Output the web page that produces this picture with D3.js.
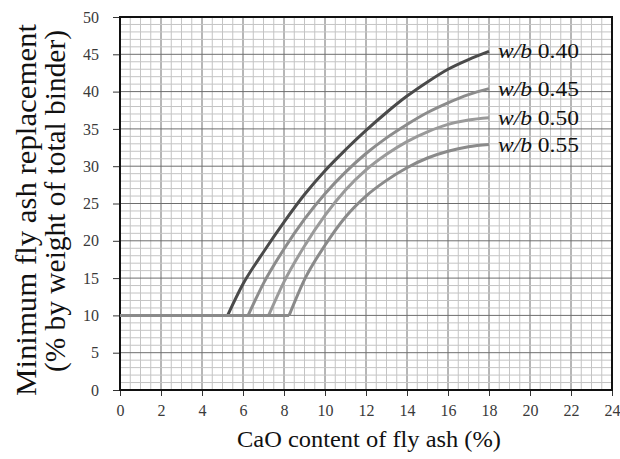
<!DOCTYPE html>
<html>
<head>
<meta charset="utf-8">
<script src="https://cdn.jsdelivr.net/npm/d3@7"></script>
<style>
  body { margin: 0; background: #fff; }
  svg { display: block; }
</style>
</head>
<body>
<div id="chart"></div>
<script>
// Données : remplacement minimal de cendres volantes selon CaO
const seriesNames = ['w/b 0.40', 'w/b 0.45', 'w/b 0.50', 'w/b 0.55'];
const wb040X = [0, 5.25, 6, 7, 8, 9, 10, 11, 12, 13, 14, 15, 16, 17, 18];
const wb040Y = [10, 10, 14.2, 18.5, 22.5, 26.2, 29.4, 32.2, 34.8, 37.2, 39.4, 41.3, 43.0, 44.3, 45.4];
const wb045X = [0, 6.25, 7, 8, 9, 10, 11, 12, 13, 14, 15, 16, 17, 18];
const wb045Y = [10, 10, 14.3, 18.9, 22.9, 26.3, 29.2, 31.7, 33.8, 35.6, 37.2, 38.5, 39.6, 40.4];
const wb050X = [0, 7.25, 8, 9, 10, 11, 12, 13, 14, 15, 16, 17, 18];
const wb050Y = [10, 10, 14.5, 19.3, 23.4, 26.8, 29.5, 31.6, 33.3, 34.6, 35.6, 36.2, 36.5];
const wb055X = [0, 8.25, 9, 10, 11, 12, 13, 14, 15, 16, 17, 18];
const wb055Y = [10, 10, 14.8, 19.4, 23.2, 26.0, 28.1, 29.8, 31.1, 32.0, 32.6, 32.9];
const xTicks = [0, 2, 4, 6, 8, 10, 12, 14, 16, 18, 20, 22, 24];
const yTicks = [0, 5, 10, 15, 20, 25, 30, 35, 40, 45, 50];

const seriesX = [wb040X, wb045X, wb050X, wb055X];
const seriesY = [wb040Y, wb045Y, wb050Y, wb055Y];
const colors = ['#4a4a4a', '#8c8c8c', '#9a9a9a', '#8a8a8a'];

const W = 620, H = 459;
const margin = { top: 17, right: 8, bottom: 69, left: 120 };
const width = W - margin.left - margin.right;
const height = H - margin.top - margin.bottom;
const serif = '"Liberation Serif", serif';

const svg = d3.select('#chart').append('svg')
  .attr('width', W)
  .attr('height', H);

const g = svg.append('g')
  .attr('transform', `translate(${margin.left},${margin.top})`);

const x = d3.scaleLinear().domain([0, 24]).range([0, width]);
const y = d3.scaleLinear().domain([0, 50]).range([height, 0]);

// Grille fine (0.5 en x, 1 en y), grille principale tous les 2 / 5
g.append('g')
  .selectAll('line')
  .data(d3.range(0, 24.01, 0.5))
  .enter().append('line')
  .attr('x1', d => x(d)).attr('x2', d => x(d))
  .attr('y1', 0).attr('y2', height)
  .style('stroke', d => d % 2 === 0 ? '#6e6e6e' : '#c4c4c4')
  .style('stroke-width', 1);

g.append('g')
  .selectAll('line')
  .data(d3.range(0, 50.01, 1))
  .enter().append('line')
  .attr('x1', 0).attr('x2', width)
  .attr('y1', d => y(d)).attr('y2', d => y(d))
  .style('stroke', d => d % 5 === 0 ? '#6e6e6e' : '#c4c4c4')
  .style('stroke-width', 1);

// Axes
const xAxis = g.append('g')
  .attr('transform', `translate(0,${height})`)
  .call(d3.axisBottom(x).tickValues(xTicks).tickSize(6).tickPadding(9));
const yAxis = g.append('g')
  .call(d3.axisLeft(y).tickValues(yTicks).tickSize(7).tickPadding(14));

[xAxis, yAxis].forEach(a => {
  a.select('.domain').remove();
  a.selectAll('line').style('stroke', '#333');
  a.selectAll('text')
    .style('font-family', serif)
    .style('font-size', '16px')
    .style('fill', '#3a3a3a');
});

// Cadre
g.append('rect')
  .attr('width', width).attr('height', height)
  .style('fill', 'none')
  .style('stroke', '#111')
  .style('stroke-width', 2);

// Courbes : palier linéaire puis montée lissée
const flat = d3.line()
  .x(d => x(d[0]))
  .y(d => y(d[1]));
const rise = d3.line()
  .x(d => x(d[0]))
  .y(d => y(d[1]))
  .curve(d3.curveMonotoneX);

seriesNames.forEach((name, i) => {
  const pts = seriesX[i].map((v, j) => [v, seriesY[i][j]]);
  [[flat, pts.slice(0, 2)], [rise, pts.slice(1)]].forEach(([gen, data]) => {
    g.append('path')
      .datum(data)
      .attr('d', gen)
      .style('fill', 'none')
      .style('stroke', colors[i])
      .style('stroke-width', 3)
      .style('stroke-linejoin', 'round');
  });
});

// Étiquettes des courbes
seriesNames.forEach((name, i) => {
  const xs = seriesX[i], ys = seriesY[i];
  const t = g.append('text')
    .attr('x', x(xs[xs.length - 1]) + 9)
    .attr('y', y(ys[ys.length - 1]))
    .attr('dy', '0.35em')
    .attr('textLength', 81)
    .attr('lengthAdjust', 'spacingAndGlyphs')
    .style('font-family', serif)
    .style('font-size', '20px')
    .style('fill', '#111');
  const parts = name.split(' ');
  t.append('tspan').style('font-style', 'italic').text(parts[0]);
  t.append('tspan').text(' ' + parts[1]);
});

// Titres des axes
svg.append('text')
  .attr('x', 369)
  .attr('y', 447)
  .attr('text-anchor', 'middle')
  .attr('textLength', 264)
  .attr('lengthAdjust', 'spacingAndGlyphs')
  .style('font-family', serif)
  .style('font-size', '23px')
  .style('fill', '#111')
  .text('CaO content of fly ash (%)');

const yTitle = svg.append('g')
  .attr('transform', 'rotate(-90)')
  .style('font-family', serif)
  .style('font-size', '30px')
  .style('fill', '#111');
yTitle.append('text')
  .attr('x', -210).attr('y', 36)
  .attr('text-anchor', 'middle')
  .attr('textLength', 372)
  .attr('lengthAdjust', 'spacingAndGlyphs')
  .text('Minimum fly ash replacement');
yTitle.append('text')
  .attr('x', -201).attr('y', 65)
  .attr('text-anchor', 'middle')
  .attr('textLength', 342)
  .attr('lengthAdjust', 'spacingAndGlyphs')
  .text('(% by weight of total binder)');
</script>
</body>
</html>
